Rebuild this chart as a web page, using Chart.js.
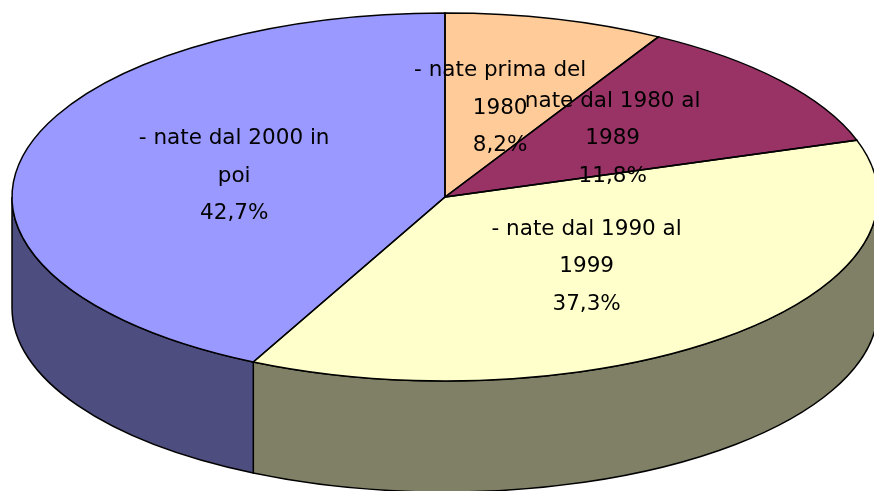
<!DOCTYPE html>
<html>
<head>
<meta charset="utf-8">
<title>Nate per periodo</title>
<script src="https://cdn.jsdelivr.net/npm/chart.js@4.4.1/dist/chart.umd.min.js"></script>
<style>
    body { margin: 0; background: #ffffff; }
    canvas { display: block; }
</style>
</head>
<body>
<canvas id="pie3d" width="874" height="491"></canvas>
<script>
// Data
const categories = [
    ['- nate prima del', '1980'],
    ['nate dal 1980 al', '1989'],
    ['- nate dal 1990 al', '1999'],
    ['- nate dal 2000 in', 'poi']
];
const shares = [8.2, 11.8, 37.3, 42.7];
const topColours = ['#FFCC99', '#993366', '#FFFFCC', '#9999FF'];
const sideColours = ['#80664D', '#4D1A33', '#808066', '#4D4D80'];

// 3D look: ellipse the flat pie is squashed into, and wall height
const view = { cx: 445, cy: 197, rx: 433, ry: 184, depth: 111 };
const labelFont = '21.5px "DejaVu Sans", sans-serif';
const lineGap = 37.5;

function fmtPct(v) {
    return v.toFixed(1).replace('.', ',') + '%';
}

function ellipsePoint(angle, dy) {
    return {
        x: view.cx + view.rx * Math.cos(angle),
        y: view.cy + (dy || 0) + view.ry * Math.sin(angle)
    };
}

const pie3dPlugin = {
    id: 'pie3d',
    beforeDatasetsDraw(chart) {
        const ctx = chart.ctx;
        const arcs = chart.getDatasetMeta(0).data;

        // side walls, only the front half is visible
        ctx.save();
        ctx.lineWidth = 1.5;
        ctx.strokeStyle = '#000000';
        arcs.forEach((arc, i) => {
            const s = Math.max(arc.startAngle, 0);
            const e = Math.min(arc.endAngle, Math.PI);
            if (s >= e) return;
            const b = ellipsePoint(e, view.depth);
            ctx.beginPath();
            ctx.ellipse(view.cx, view.cy, view.rx, view.ry, 0, s, e);
            ctx.lineTo(b.x, b.y);
            ctx.ellipse(view.cx, view.cy + view.depth, view.rx, view.ry, 0, e, s, true);
            ctx.closePath();
            ctx.fillStyle = sideColours[i];
            ctx.fill();
            ctx.stroke();
        });
        ctx.restore();

        // squash the flat pie into the top face
        const first = arcs[0];
        ctx.save();
        ctx.translate(view.cx, view.cy);
        ctx.scale(view.rx / first.outerRadius, view.ry / first.outerRadius);
        ctx.translate(-first.x, -first.y);
    },
    afterDatasetsDraw(chart) {
        const ctx = chart.ctx;
        ctx.restore();
        const arcs = chart.getDatasetMeta(0).data;

        // outlines of the top face
        ctx.save();
        ctx.lineWidth = 1.5;
        ctx.strokeStyle = '#000000';
        arcs.forEach(arc => {
            const p = ellipsePoint(arc.startAngle);
            ctx.beginPath();
            ctx.moveTo(view.cx, view.cy);
            ctx.lineTo(p.x, p.y);
            ctx.ellipse(view.cx, view.cy, view.rx, view.ry, 0, arc.startAngle, arc.endAngle);
            ctx.closePath();
            ctx.stroke();
        });

        // data labels: category lines + percentage
        ctx.font = labelFont;
        ctx.fillStyle = '#000000';
        ctx.textAlign = 'center';
        ctx.textBaseline = 'middle';
        arcs.forEach((arc, i) => {
            const mid = (arc.startAngle + arc.endAngle) / 2;
            const x = view.cx + view.rx * 0.5 * Math.cos(mid);
            const y = view.cy + view.ry * 0.5 * Math.sin(mid);
            const lines = categories[i].concat([fmtPct(shares[i])]);
            const top = y - (lines.length - 1) * lineGap / 2;
            lines.forEach((txt, k) => {
                ctx.fillText(txt, x, top + k * lineGap);
            });
        });
        ctx.restore();
    }
};

new Chart(document.getElementById('pie3d'), {
    type: 'pie',
    data: {
        labels: categories.map(c => c.join(' ')),
        datasets: [{
            data: shares,
            backgroundColor: topColours,
            borderWidth: 0,
            clip: false
        }]
    },
    options: {
        responsive: false,
        animation: false,
        layout: { padding: 0 },
        plugins: {
            legend: { display: false },
            tooltip: { enabled: false }
        }
    },
    plugins: [pie3dPlugin]
});
</script>
</body>
</html>
